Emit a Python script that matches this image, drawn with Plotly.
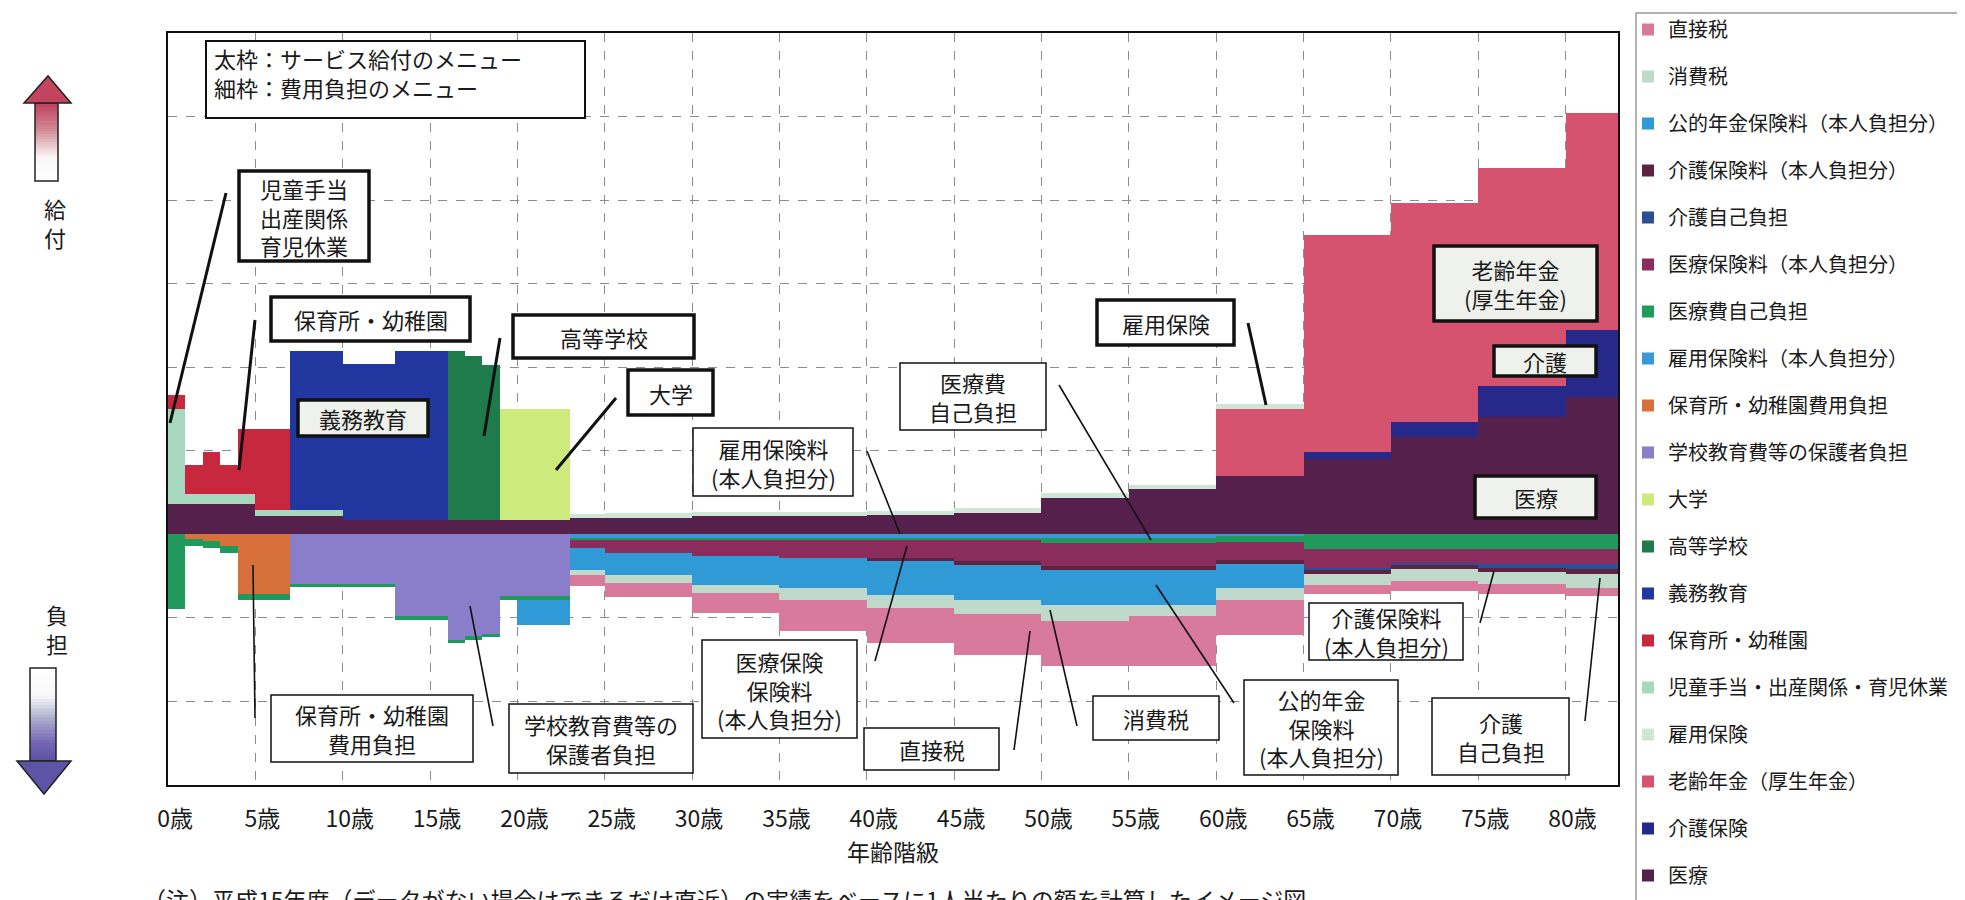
import plotly.graph_objects as go

# ---------------- data (万円 per person, per age bin) ----------------
AGE_EDGES = list(range(0, 24)) + [25, 30, 35, 40, 45, 50, 55, 60, 65, 70, 75, 80, 83]
TICK_AGES = list(range(0, 81, 5))
TICK_TEXT = [f"{a}歳" for a in TICK_AGES]

# benefits (positive), stacked from zero upward in this order
iryo        = [18, 18, 18, 18, 18, 11, 11, 11, 11, 11] + [8.5] * 13 + [10, 10, 11, 11, 11.5, 13, 22, 27, 35, 45, 58, 70, 82]
kaigo_hoken = [0] * 32 + [4, 9, 18.5, 40]
rorei       = [0] * 31 + [40, 130, 131, 131, 130]
koyo_hoken  = [0] * 23 + [2, 2.5, 2.5, 2.5, 2.5, 2.5, 2.5, 2.5, 3] + [0] * 4
jido        = [57, 6, 6, 6, 6, 3.5, 3.5, 3.5, 3.5, 3.5] + [0] * 26
hoiku       = [8.5, 17.5, 25, 17.5, 39, 48.5, 48.5] + [0] * 29
gimu        = [0] * 7 + [95, 95, 95, 93.5, 93.5, 93.5, 101, 101, 101] + [0] * 20
koko        = [0] * 16 + [101, 98, 93] + [0] * 17
daigaku     = [0] * 19 + [66.5] * 4 + [0] * 13

# burdens (negative), stacked from zero downward in this order
gakko       = [0] * 7 + [-29.5] * 6 + [-49] * 3 + [-63, -61, -59.5] + [-37] * 4 + [0] * 13
hoiku_futan = [0, -3, -4, -7, -35.5, -35.5, -35.5] + [0] * 29
koyo_ryo    = [0] * 23 + [-2] * 8 + [-1] + [0] * 4
iryohi      = [-44.5, -4, -4, -4, -3.5, -3.5, -3.5] + [-2] * 16 + [-1.2] * 6 + [-3, -3, -3.5] + [-8.5] * 4
iryo_hoken  = [0] * 23 + [-5, -8, -9.5, -11, -11, -12.5, -14, -14, -11, -12, -8.5, -9.5, -9]
kaigo_jiko  = [0] * 32 + [-0.6, -1.2, -2, -3.5]
kaigo_ryo   = [0] * 27 + [-2, -2.5, -2.5, -2.5, -2.5, -2.5, -2.5, -2.5, -2.5]
nenkin      = [0] * 20 + [-15, -15, -15, -13, -13, -17.5, -18, -20, -21, -21, -21, -14] + [0] * 4
shohi       = [0] * 23 + [-3, -5, -5, -7, -8, -8.5, -9.5, -6.5, -7, -6.5, -7, -7, -8.5]
chokusetsu  = [0] * 23 + [-7, -8.5, -12, -18.5, -21, -24.5, -27, -29.5, -21, -5.5, -6, -6, -5]

SERIES = [
    ("医療", iryo, "#55204c"),
    ("介護保険", kaigo_hoken, "#26298a"),
    ("老齢年金（厚生年金）", rorei, "#d65370"),
    ("雇用保険", koyo_hoken, "#cfe6d6"),
    ("児童手当・出産関係・育児休業", jido, "#a6d8bf"),
    ("保育所・幼稚園", hoiku, "#c8283e"),
    ("義務教育", gimu, "#2236a0"),
    ("高等学校", koko, "#1f7a4c"),
    ("大学", daigaku, "#cdea7c"),
    ("学校教育費等の保護者負担", gakko, "#8a7dc9"),
    ("保育所・幼稚園費用負担", hoiku_futan, "#d8703c"),
    ("雇用保険料（本人負担分）", koyo_ryo, "#3a98d6"),
    ("医療費自己負担", iryohi, "#1f9a5c"),
    ("医療保険料（本人負担分）", iryo_hoken, "#8a2c5c"),
    ("介護自己負担", kaigo_jiko, "#2c4f96"),
    ("介護保険料（本人負担分）", kaigo_ryo, "#5e2340"),
    ("公的年金保険料（本人負担分）", nenkin, "#2f9ad6"),
    ("消費税", shohi, "#bfd9cb"),
    ("直接税", chokusetsu, "#d77a9c"),
]

# ---------------- layout constants ----------------
W, H = 1965, 900
PL, PR, PT, PB = 160, 1610, 25, 777
FONT = "Noto Sans CJK JP"


def px(x, y):
    return (x - PL) / (PR - PL), (PB - y) / (PB - PT)


starts = AGE_EDGES[:-1]
widths = [b - a for a, b in zip(AGE_EDGES[:-1], AGE_EDGES[1:])]
centers = [a + w / 2 for a, w in zip(starts, widths)]

fig = go.Figure()
for i, (name, vals, col) in enumerate(SERIES):
    fig.add_trace(go.Bar(
        x=centers, y=vals, width=widths, name=name,
        marker=dict(color=col, line=dict(width=0)),
        legendgroup=f"g{i}", legendrank=1000 - 10 * i,
    ))

shapes = []
annotations = []

# boxes: (x0, x1, y0, y1, linewidth, fill, text, align)
LIGHT = "#eef1ec"
boxes = [
    (198, 577, 33, 110, 2, "white", "太枠：サービス給付のメニュー<br>細枠：費用負担のメニュー", "left"),
    (231, 361, 163, 253, 3.5, "white", "児童手当<br>出産関係<br>育児休業", "center"),
    (263, 462, 289, 333, 3.5, "white", "保育所・幼稚園", "center"),
    (505, 686, 307, 350, 3.5, "white", "高等学校", "center"),
    (620, 705, 362, 407, 3.5, "white", "大学", "center"),
    (290, 420, 392, 428, 3.5, LIGHT, "義務教育", "center"),
    (1089, 1226, 292, 337, 3.5, "white", "雇用保険", "center"),
    (892, 1038, 355, 422, 1.5, "white", "医療費<br>自己負担", "center"),
    (685, 845, 420, 488, 1.5, "white", "雇用保険料<br>(本人負担分)", "center"),
    (694, 849, 632, 730, 1.5, "white", "医療保険<br>保険料<br>(本人負担分)", "center"),
    (856, 991, 720, 762, 1.5, "white", "直接税", "center"),
    (1085, 1211, 688, 732, 1.5, "white", "消費税", "center"),
    (1236, 1390, 672, 767, 1.5, "white", "公的年金<br>保険料<br>(本人負担分)", "center"),
    (1301, 1455, 595, 652, 1.5, "white", "介護保険料<br>(本人負担分)", "center"),
    (1424, 1561, 690, 767, 1.5, "white", "介護<br>自己負担", "center"),
    (1426, 1589, 238, 313, 3.5, LIGHT, "老齢年金<br>(厚生年金)", "center"),
    (1486, 1588, 338, 368, 3.5, LIGHT, "介護", "center"),
    (1467, 1588, 468, 510, 3.5, LIGHT, "医療", "center"),
    (263, 465, 687, 754, 1.5, "white", "保育所・幼稚園<br>費用負担", "center"),
    (501, 685, 696, 765, 1.5, "white", "学校教育費等の<br>保護者負担", "center"),
]
for x0, x1, y0, y1, lw, fill, text, align in boxes:
    a0, b1 = px(x0, y0)
    a1, b0 = px(x1, y1)
    shapes.append(dict(type="rect", xref="paper", yref="paper", x0=a0, x1=a1, y0=b0, y1=b1,
                       line=dict(color="#111", width=lw), fillcolor=fill, layer="above"))
    if align == "left":
        ax_, ay_ = px(x0 + 6, y0 + 31)
        anchor = "left"
    else:
        ax_, ay_ = px((x0 + x1) / 2, (y0 + y1) / 2)
        anchor = "center"
    annotations.append(dict(xref="paper", yref="paper", x=ax_, y=ay_, text=text, showarrow=False,
                            xanchor=anchor, yanchor="middle", align=align,
                            font=dict(family=FONT, size=22, color="#1a1a1a")))

# leader lines: (x0, y0, x1, y1, width)
leaders = [
    (218, 185, 162, 415, 3), (247, 312, 231, 462, 3), (492, 330, 476, 428, 3),
    (608, 390, 548, 462, 3), (1240, 315, 1258, 397, 3),
    (1051, 377, 1143, 532, 1.6), (859, 443, 892, 526, 1.6), (867, 653, 899, 538, 1.6),
    (1006, 742, 1022, 623, 1.6), (1069, 718, 1042, 602, 1.6), (1226, 695, 1148, 577, 1.6),
    (1472, 615, 1486, 563, 1.6), (1577, 713, 1592, 570, 1.6), (245, 557, 247, 710, 1.6),
    (462, 598, 485, 718, 1.6),
]
for x0, y0, x1, y1, lw in leaders:
    a0, b0 = px(x0, y0)
    a1, b1 = px(x1, y1)
    shapes.append(dict(type="line", xref="paper", yref="paper", x0=a0, y0=b0, x1=a1, y1=b1,
                       line=dict(color="#111", width=lw), layer="above"))


# gradient arrows on the left
def interp(stops, t):
    for (t0, c0), (t1, c1) in zip(stops[:-1], stops[1:]):
        if t0 <= t <= t1:
            f = (t - t0) / (t1 - t0) if t1 > t0 else 0
            return "rgb(%d,%d,%d)" % tuple(round(c0[k] + f * (c1[k] - c0[k])) for k in range(3))
    return "rgb(%d,%d,%d)" % stops[-1][1]


def grad_rect(x0, x1, y0, y1, stops, n=30):
    for i in range(n):
        ya = y0 + (y1 - y0) * i / n
        yb = y0 + (y1 - y0) * (i + 1) / n + 0.6
        a0, b0 = px(x0, ya)
        a1, b1 = px(x1, yb)
        shapes.append(dict(type="rect", xref="paper", yref="paper", x0=a0, x1=a1, y0=b1, y1=b0,
                           line=dict(width=0), fillcolor=interp(stops, (i + 0.5) / n)))
    a0, b0 = px(x0, y0)
    a1, b1 = px(x1, y1)
    shapes.append(dict(type="rect", xref="paper", yref="paper", x0=a0, x1=a1, y0=b1, y1=b0,
                       line=dict(color="#222", width=1.5), fillcolor="rgba(0,0,0,0)"))


def tri(pts, fill):
    p = [px(x, y) for x, y in pts]
    path = "M %f,%f L %f,%f L %f,%f Z" % (p[0][0], p[0][1], p[1][0], p[1][1], p[2][0], p[2][1])
    shapes.append(dict(type="path", xref="paper", yref="paper", path=path,
                       fillcolor=fill, line=dict(color="#222", width=1.5)))


grad_rect(27, 50, 95, 173, [(0, (192, 62, 92)), (0.35, (210, 140, 152)), (0.7, (250, 247, 247)), (1, (255, 255, 255))])
tri([(16, 95), (40, 68), (63, 95)], "#c2445f")
grad_rect(22, 48, 660, 753, [(0, (255, 255, 255)), (0.3, (248, 248, 250)), (0.55, (170, 172, 205)), (0.8, (118, 102, 180)), (1, (92, 82, 165))])
tri([(9, 753), (36, 786), (63, 753)], "#5d54a5")

for t, x, y in [("給<br>付", 47, 214), ("負<br>担", 49, 620)]:
    a, b = px(x, y)
    annotations.append(dict(xref="paper", yref="paper", x=a, y=b, text=t, showarrow=False,
                            xanchor="center", yanchor="middle", font=dict(family=FONT, size=22, color="#1a1a1a")))

# axis title and footnote
a, b = px(885, 843)
annotations.append(dict(xref="paper", yref="paper", x=a, y=b, text="年齢階級", showarrow=False,
                        xanchor="center", yanchor="middle", font=dict(family=FONT, size=23, color="#1a1a1a")))
a, b = px(133, 891)
annotations.append(dict(xref="paper", yref="paper", x=a, y=b,
                        text="（注）平成15年度（データがない場合はできるだけ直近）の実績をベースに1人当たりの額を計算したイメージ図",
                        showarrow=False, xanchor="left", yanchor="middle",
                        font=dict(family=FONT, size=23, color="#1a1a1a")))

# legend frame
a0, b0 = px(1628, 5)
a1, b1 = px(1962, 898)
shapes.append(dict(type="rect", xref="paper", yref="paper", x0=a0, x1=a1, y0=b1, y1=b0,
                   line=dict(color="#999", width=1.5), fillcolor="rgba(0,0,0,0)"))

lx, _ = px(1620, 0)
fig.update_layout(
    width=W, height=H,
    margin=dict(l=PL, r=W - PR, t=PT, b=H - PB, pad=0, autoexpand=False),
    paper_bgcolor="white", plot_bgcolor="white",
    barmode="relative", bargap=0,
    font=dict(family=FONT, color="#1a1a1a"),
    showlegend=True,
    legend=dict(x=lx, y=1 - 2 / H, yref="container", xanchor="left", yanchor="top", traceorder="grouped",
                tracegroupgap=18, font=dict(family=FONT, size=20, color="#1a1a1a"),
                bgcolor="rgba(0,0,0,0)", borderwidth=0, itemwidth=30, maxheight=1000),
    xaxis=dict(range=[0, 83], tickvals=TICK_AGES, ticktext=TICK_TEXT, ticklabelshift=7,
               ticks="outside", ticklen=12, tickcolor="rgba(0,0,0,0)",
               tickfont=dict(family=FONT, size=23, color="#1a1a1a"),
               showgrid=True, gridcolor="#8c8c8c", griddash="dash", gridwidth=1,
               showline=True, linecolor="#111", linewidth=2, mirror=True, zeroline=False),
    yaxis=dict(range=[-150, 300], dtick=50, tick0=0, showticklabels=False,
               showgrid=True, gridcolor="#8c8c8c", griddash="dash", gridwidth=1,
               showline=True, linecolor="#111", linewidth=2, mirror=True, zeroline=False),
    shapes=shapes, annotations=annotations,
)

fig.write_html("out.html")
